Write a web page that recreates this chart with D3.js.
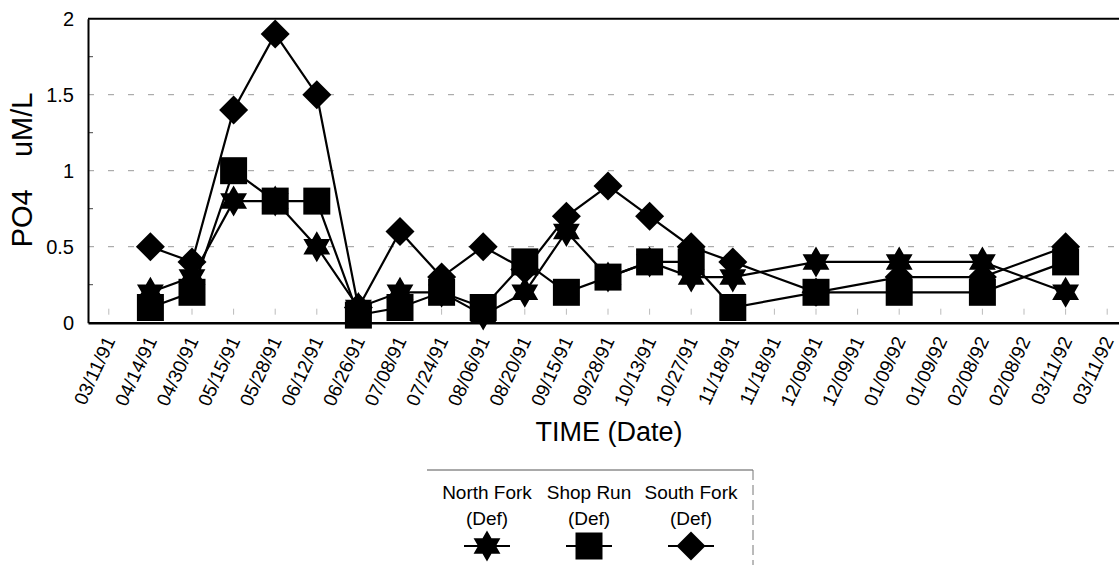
<!DOCTYPE html>
<html>
<head>
<meta charset="utf-8">
<script src="https://cdn.jsdelivr.net/npm/d3@7"></script>
<style>
  html, body { margin: 0; padding: 0; background: #fff; }
  svg { display: block; font-family: Arial, "Liberation Sans", sans-serif; }
</style>
</head>
<body>
<svg id="chart" width="1119" height="565"></svg>
<script>
// Sampling dates (duplicated end-of-period labels have no samples)
const dates = ["03/11/91","04/14/91","04/30/91","05/15/91","05/28/91","06/12/91","06/26/91",
  "07/08/91","07/24/91","08/06/91","08/20/91","09/15/91","09/28/91","10/13/91","10/27/91",
  "11/18/91","11/18/91","12/09/91","12/09/91","01/09/92","01/09/92","02/08/92","02/08/92",
  "03/11/92","03/11/92"];

// PO4 concentration, uM/L
const northFork = [null,0.2,0.3,0.8,0.8,0.5,0.1,0.2,0.2,0.05,0.2,0.6,0.3,0.4,0.3,0.3,null,0.4,null,0.4,null,0.4,null,0.2,null];
const shopRun   = [null,0.1,0.2,1.0,0.8,0.8,0.05,0.1,0.2,0.1,0.4,0.2,0.3,0.4,0.4,0.1,null,0.2,null,0.2,null,0.2,null,0.4,null];
const southFork = [null,0.5,0.4,1.4,1.9,1.5,0.1,0.6,0.3,0.5,0.35,0.7,0.9,0.7,0.5,0.4,null,0.2,null,0.3,null,0.3,null,0.5,null];

const yTicks = [0, 0.5, 1, 1.5, 2];
const yMinorTicks = [0.25, 0.75, 1.25, 1.75];

const seriesNames = ["North Fork", "Shop Run", "South Fork"];

// Custom marker shapes
const hexagram = {
  draw(ctx, size) {
    const R = Math.sqrt(size) / 2, r = R / Math.sqrt(3);
    for (let k = 0; k < 12; k++) {
      const a = -Math.PI / 2 + k * Math.PI / 6;
      const rad = k % 2 === 0 ? R : r;
      const px = rad * Math.cos(a), py = rad * Math.sin(a);
      if (k === 0) ctx.moveTo(px, py); else ctx.lineTo(px, py);
    }
    ctx.closePath();
  }
};
const rhombus = {
  draw(ctx, size) {
    const h = Math.sqrt(size) / 2;
    ctx.moveTo(0, -h); ctx.lineTo(h, 0); ctx.lineTo(0, h); ctx.lineTo(-h, 0); ctx.closePath();
  }
};
const box = {
  draw(ctx, size) {
    const h = Math.sqrt(size) / 2;
    ctx.rect(-h, -h, 2 * h, 2 * h);
  }
};

const series = [
  { name: seriesNames[0], values: northFork, shape: hexagram, size: 31 * 31 },
  { name: seriesNames[1], values: shopRun,   shape: box,      size: 27 * 27 },
  { name: seriesNames[2], values: southFork, shape: rhombus,  size: 29 * 29 }
];

const svg = d3.select("#chart");
const plot = { left: 88, top: 18.7, bottom: 322.7, step: 41.6 };
plot.right = plot.left + plot.step * dates.length;

const x = d3.scaleBand()
  .domain(d3.range(dates.length))
  .range([plot.left, plot.right])
  .padding(0);
const xc = i => x(i) + x.bandwidth() / 2;

const y = d3.scaleLinear().domain([0, 2]).range([plot.bottom, plot.top]);

// Horizontal dashed gridlines
svg.append("g")
  .selectAll("line")
  .data(yTicks.filter(v => v > 0 && v < 2))
  .join("line")
  .attr("x1", plot.left).attr("x2", plot.right)
  .attr("y1", d => y(d)).attr("y2", d => y(d))
  .attr("stroke", "#999")
  .attr("stroke-width", 1)
  .attr("stroke-dasharray", "6 14");

// Short faint marks at each date along the floor
svg.append("g")
  .selectAll("line")
  .data(d3.range(dates.length))
  .join("line")
  .attr("x1", d => xc(d)).attr("x2", d => xc(d))
  .attr("y1", plot.bottom - 14).attr("y2", plot.bottom - 8)
  .attr("stroke", "#bbb")
  .attr("stroke-width", 1);

// Minor y ticks, pointing into the plot
svg.append("g")
  .selectAll("line")
  .data(yMinorTicks)
  .join("line")
  .attr("x1", plot.left).attr("x2", plot.left + 5)
  .attr("y1", d => y(d)).attr("y2", d => y(d))
  .attr("stroke", "#444")
  .attr("stroke-width", 1);

// Frame: top edge
svg.append("line")
  .attr("x1", plot.left).attr("x2", plot.right)
  .attr("y1", plot.top).attr("y2", plot.top)
  .attr("stroke", "#000").attr("stroke-width", 2);

// Y axis
const yAxis = svg.append("g")
  .attr("transform", `translate(${plot.left},0)`)
  .call(d3.axisLeft(y).tickValues(yTicks).tickSize(0).tickPadding(14).tickFormat(d3.format("")));
yAxis.select(".domain").attr("stroke", "#000").attr("stroke-width", 2);
yAxis.selectAll("text")
  .attr("font-size", 20)
  .attr("fill", "#000")
  .attr("font-family", "Arial, 'Liberation Sans', sans-serif");

// X axis
const xAxis = svg.append("g")
  .attr("transform", `translate(0,${plot.bottom})`)
  .call(d3.axisBottom(x).tickSize(0).tickFormat(i => dates[i]));
xAxis.select(".domain").attr("stroke", "#000").attr("stroke-width", 2.5);
xAxis.selectAll("text")
  .attr("font-size", 19)
  .attr("fill", "#000")
  .attr("font-family", "Arial, 'Liberation Sans', sans-serif")
  .attr("text-anchor", "end")
  .attr("dy", "0.35em")
  .attr("transform", "translate(1,15) rotate(-65)")
  .attr("y", 0).attr("x", 0);

// Series lines and markers
const line = d3.line().x(d => xc(d.i)).y(d => y(d.v));
series.forEach(s => {
  const pts = s.values.map((v, i) => ({ i, v })).filter(d => d.v !== null);
  svg.append("path")
    .datum(pts)
    .attr("d", line)
    .attr("fill", "none")
    .attr("stroke", "#000")
    .attr("stroke-width", 2.2);
  svg.append("g")
    .selectAll("path")
    .data(pts)
    .join("path")
    .attr("transform", d => `translate(${xc(d.i)},${y(d.v)})`)
    .attr("d", d3.symbol().type(s.shape).size(s.size))
    .attr("fill", "#000");
});

// Axis titles
svg.append("text")
  .attr("transform", `translate(32,170) rotate(-90)`)
  .attr("text-anchor", "middle")
  .attr("font-size", 29)
  .attr("fill", "#000")
  .style("white-space", "pre")
  .text("PO4    uM/L");

svg.append("text")
  .attr("x", 609).attr("y", 441)
  .attr("text-anchor", "middle")
  .attr("font-size", 27)
  .attr("fill", "#000")
  .text("TIME (Date)");

// Legend
const legend = svg.append("g");
legend.append("line")
  .attr("x1", 427).attr("x2", 753).attr("y1", 470).attr("y2", 470)
  .attr("stroke", "#555").attr("stroke-width", 1);
legend.append("line")
  .attr("x1", 753).attr("x2", 753).attr("y1", 470).attr("y2", 565)
  .attr("stroke", "#777").attr("stroke-width", 1)
  .attr("stroke-dasharray", "10 5");

const legendX = [487, 589, 691];
series.forEach((s, k) => {
  const cx = legendX[k];
  legend.append("text")
    .attr("x", cx).attr("y", 499)
    .attr("text-anchor", "middle")
    .attr("font-size", 19)
    .attr("fill", "#000")
    .text(s.name);
  legend.append("text")
    .attr("x", cx).attr("y", 525)
    .attr("text-anchor", "middle")
    .attr("font-size", 19)
    .attr("fill", "#000")
    .text("(Def)");
  legend.append("line")
    .attr("x1", cx - 23).attr("x2", cx + 23)
    .attr("y1", 546).attr("y2", 546)
    .attr("stroke", "#000").attr("stroke-width", 2);
  legend.append("path")
    .attr("transform", `translate(${cx},546)`)
    .attr("d", d3.symbol().type(s.shape).size(s.size))
    .attr("fill", "#000");
});
</script>
</body>
</html>
